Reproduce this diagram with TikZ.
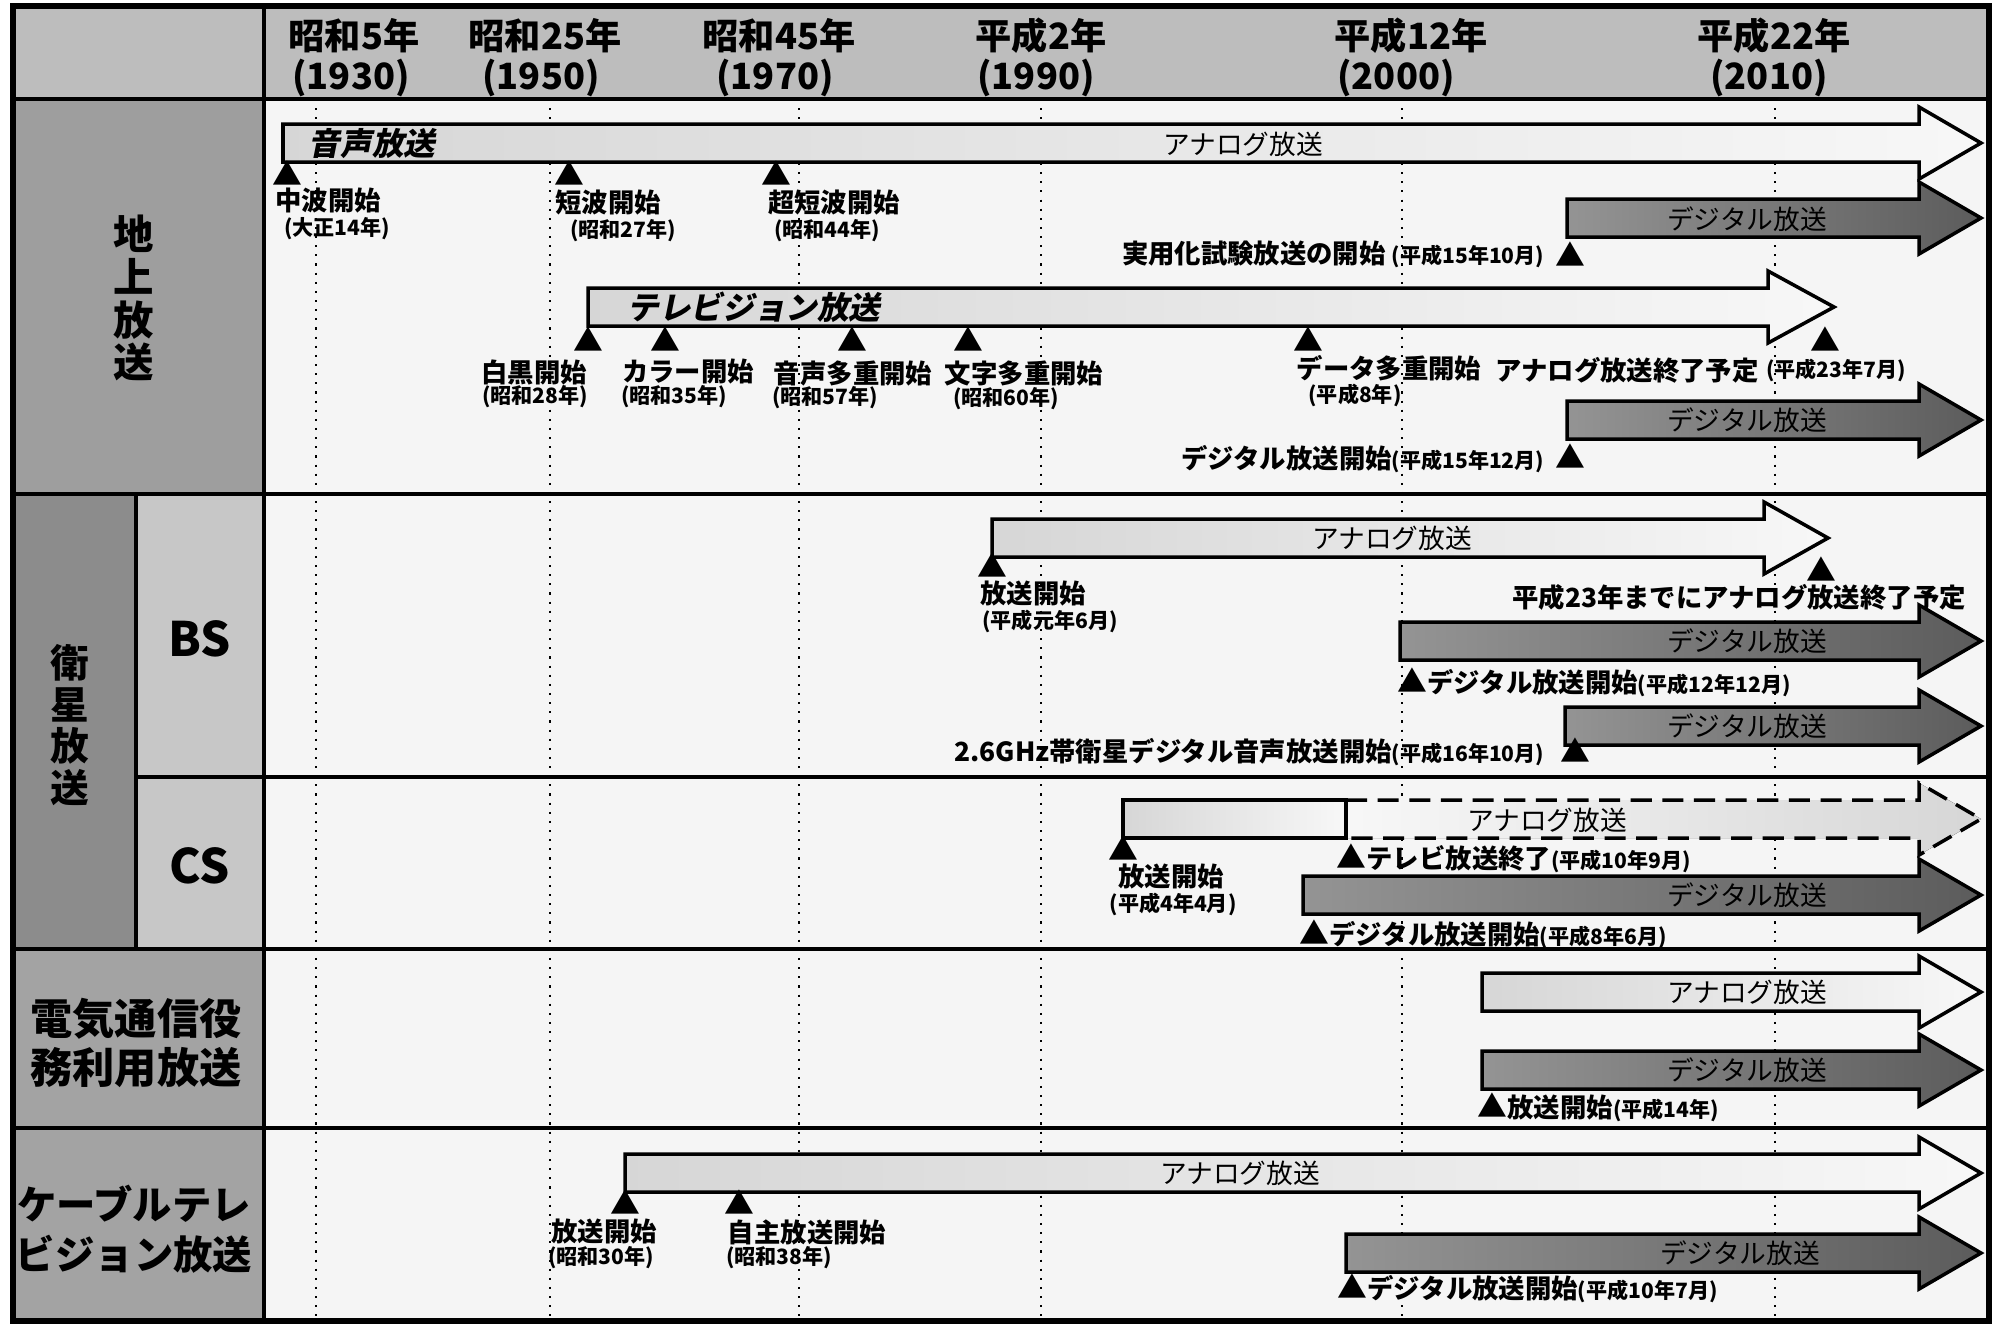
\documentclass[tikz,border=0pt]{standalone}
\usepackage{fontspec}
\setmainfont{Noto Sans CJK JP}
\newfontfamily\slantfont{Noto Sans CJK JP}[FakeSlant=0.2]
\usetikzlibrary{positioning}

\definecolor{hdrgray}{gray}{0.74}
\definecolor{sidegray}{gray}{0.62}
\definecolor{satgray}{gray}{0.55}
\definecolor{subgray}{gray}{0.78}
\definecolor{bodygray}{gray}{0.96}
\definecolor{lightA}{gray}{0.84}
\definecolor{lightB}{gray}{0.97}
\definecolor{darkA}{gray}{0.58}
\definecolor{darkB}{gray}{0.36}

\tikzset{
  hdr/.style={font=\fontsize{10.3}{11}\selectfont\bfseries, inner sep=0pt},
  side/.style={font=\fontsize{11.5}{12.2}\selectfont\bfseries, align=center, inner sep=0pt},
  lightarrow/.style={draw=black, line width=1pt, left color=lightA, right color=lightB},
  darkarrow/.style={draw=black, line width=1pt, left color=darkA, right color=darkB},
  tag/.style={font=\fontsize{7.6}{8}\selectfont, inner sep=0pt},
  bigtag/.style={font=\fontsize{9}{10}\selectfont\slantfont\bfseries, inner sep=0pt},
  tri/.style={font=\fontsize{8.5}{9}\selectfont, inner sep=0pt},
  evt/.style={font=\fontsize{7.5}{8}\selectfont\bfseries, inner sep=0pt},
  yr/.style={font=\fontsize{6}{7}\selectfont\bfseries, inner sep=0pt},
}

% block arrow: style, start x, end of body, tip, middle y
\newcommand{\blockarrow}[5]{%
  \draw[#1] (#2,#5-19) -- (#3,#5-19) -- (#3,#5-36) -- (#4,#5) -- (#3,#5+36) -- (#3,#5+19) -- (#2,#5+19) -- cycle;}
\newcommand{\sm}[1]{{\fontsize{6}{7}\selectfont #1}}
\newcommand{\mk}{{\fontsize{8.5}{9}\selectfont ▲}}

\begin{document}
\begin{tikzpicture}[x=0.1mm, y=-0.1mm]
  \useasboundingbox (0,0) rectangle (1997,1323);

  % backgrounds
  \fill[bodygray] (264,99) rectangle (1989,1321);
  \fill[hdrgray] (13,6) rectangle (1989,99);
  \fill[sidegray] (13,99) rectangle (264,494);
  \fill[satgray] (13,494) rectangle (136,949);
  \fill[subgray] (136,494) rectangle (264,949);
  \fill[gray!72] (13,949) rectangle (264,1321);

  % year lines
  \foreach \x in {316,550,799,1041,1402,1775}
    \draw[dotted, line width=0.6pt] (\x,99) -- (\x,1321);

  % grid
  \draw[line width=0.9pt] (13,99) -- (1989,99);
  \draw[line width=0.9pt] (13,494) -- (1989,494);
  \draw[line width=0.9pt] (136,777) -- (1989,777);
  \draw[line width=0.9pt] (13,949) -- (1989,949);
  \draw[line width=0.9pt] (13,1128) -- (1989,1128);
  \draw[line width=0.9pt] (264,6) -- (264,1321);
  \draw[line width=0.9pt] (136,494) -- (136,949);
  \draw[line width=1.5pt] (13,6) rectangle (1989,1321);

  % header
  \foreach \x/\era/\y/\yr [count=\i] in {354/昭和5年/351/1930, 545/昭和25年/541/1950,
      779/昭和45年/775/1970, 1041/平成2年/1036/1990, 1411/平成12年/1396/2000, 1774/平成22年/1769/2010} {
    \node[hdr] (era\i) at (\x,36) {\era};
    \node[hdr] (year\i) at (\y,78) {(\yr)};
  }

  % side labels
  \node[side] (chijo) at (134,298) {地\\上\\放\\送};
  \node[side, font=\fontsize{11}{11.9}\selectfont\bfseries] (eisei) at (70,725) {衛\\星\\放\\送};
  \node[font=\fontsize{13.5}{14}\selectfont\bfseries] (bs) at (200,639) {BS};
  \node[font=\fontsize{13.5}{14}\selectfont\bfseries] (cs) at (200,866) {CS};
  \node[side, font=\fontsize{12}{13.7}\selectfont\bfseries] (denki) at (136,1043) {電気通信役\\務利用放送};
  \node[side, font=\fontsize{11.2}{14.2}\selectfont\bfseries] (cable) at (134,1229) {ケーブルテレ\\ビジョン放送};

  % terrestrial
  \blockarrow{lightarrow}{283}{1919}{1981}{143}
  \node[bigtag] (onsei) at (372,144) {音声放送};
  \node[tag] (ana1) at (1243,144) {アナログ放送};
  \blockarrow{darkarrow}{1567}{1919}{1981}{218}
  \node[tag] (dig1) at (1747,219) {デジタル放送};
  \blockarrow{lightarrow}{588}{1768}{1834}{307}
  \node[bigtag] (tv) at (754,307) {テレビジョン放送};
  \blockarrow{darkarrow}{1567}{1919}{1981}{420}
  \node[tag] (dig2) at (1747,420) {デジタル放送};

  \foreach \x [count=\i] in {287,569,776}
    \node[tri] (ta\i) at (\x,173) {▲};
  \node[evt] (chuha) at (328,201) {中波開始};
  \node[yr] (chuhaY) at (337,229) {(大正14年)};
  \node[evt] (tanpa) at (608,203) {短波開始};
  \node[yr] (tanpaY) at (623,231) {(昭和27年)};
  \node[evt] (chotan) at (834,203) {超短波開始};
  \node[yr] (chotanY) at (827,231) {(昭和44年)};

  \node[tri] (tb1) at (1570,254) {▲};
  \node[evt, anchor=east] (shiken) at (1545,254) {実用化試験放送の開始 \sm{(平成15年10月)}};

  \foreach \x [count=\i] in {588,665,852,968,1308,1825}
    \node[tri] (tc\i) at (\x,339) {▲};
  \node[evt] (shiro) at (534,372) {白黒開始};
  \node[yr] (shiroY) at (535,397) {(昭和28年)};
  \node[evt] (color) at (688,372) {カラー開始};
  \node[yr] (colorY) at (674,397) {(昭和35年)};
  \node[evt] (onta) at (853,373) {音声多重開始};
  \node[yr] (ontaY) at (825,398) {(昭和57年)};
  \node[evt] (moji) at (1024,373) {文字多重開始};
  \node[yr] (mojiY) at (1006,399) {(昭和60年)};
  \node[evt] (data) at (1389,368) {データ多重開始};
  \node[yr] (dataY) at (1355,395) {(平成8年)};
  \node[evt] (shuryo) at (1627,370) {アナログ放送終了予定};
  \node[yr] (shuryoY) at (1836,370) {(平成23年7月)};

  \node[tri] (td1) at (1570,456) {▲};
  \node[evt, anchor=east] (digstart) at (1545,459) {デジタル放送開始\sm{(平成15年12月)}};

  % BS
  \blockarrow{lightarrow}{992}{1764}{1828}{538}
  \node[tag] (ana2) at (1392,538) {アナログ放送};
  \node[tri] (te1) at (992,565) {▲};
  \node[evt] (bsstart) at (1033,594) {放送開始};
  \node[yr] (bsstartY) at (1050,621) {(平成元年6月)};
  \node[tri] (te2) at (1821,569) {▲};
  \node[evt] (bsend) at (1739,597) {平成23年までにアナログ放送終了予定};
  \blockarrow{darkarrow}{1400}{1919}{1981}{641}
  \node[tag] (dig3) at (1747,641) {デジタル放送};
  \node[evt, anchor=west] (bsdig) at (1397,682) {\mk デジタル放送開始\sm{(平成12年12月)}};
  \blockarrow{darkarrow}{1565}{1919}{1981}{726}
  \node[tag] (dig4) at (1747,726) {デジタル放送};
  \node[tri] (tf1) at (1575,750) {▲};
  \node[evt, anchor=east] (ghz) at (1545,752) {2.6GHz帯衛星デジタル音声放送開始\sm{(平成16年10月)}};

  % CS
  \fill[left color=lightB, right color=lightA] (1346,800) -- (1919,800) -- (1919,783) -- (1981,819) -- (1919,855) -- (1919,838) -- (1346,838) -- cycle;
  \draw[dashed, line width=1pt, dash pattern=on 6pt off 3pt] (1346,800) -- (1919,800) -- (1919,783) -- (1981,819) -- (1919,855) -- (1919,838) -- (1346,838);
  \draw[line width=1pt, left color=lightA, right color=lightB] (1123,800) rectangle (1346,838);
  \node[tag] (ana3) at (1547,820) {アナログ放送};
  \node[tri] (tg1) at (1123,848) {▲};
  \node[evt] (csstart) at (1171,877) {放送開始};
  \node[yr] (csstartY) at (1173,904) {(平成4年4月)};
  \node[evt, anchor=west] (csend) at (1336,858) {\mk テレビ放送終了\sm{(平成10年9月)}};
  \blockarrow{darkarrow}{1303}{1919}{1981}{895}
  \node[tag] (dig5) at (1747,895) {デジタル放送};
  \node[evt, anchor=west] (csdig) at (1299,934) {\mk デジタル放送開始\sm{(平成8年6月)}};

  % telecom service
  \blockarrow{lightarrow}{1482}{1919}{1981}{992}
  \node[tag] (ana4) at (1747,992) {アナログ放送};
  \blockarrow{darkarrow}{1482}{1919}{1981}{1070}
  \node[tag] (dig6) at (1747,1070) {デジタル放送};
  \node[evt, anchor=west] (telstart) at (1477,1107) {\mk 放送開始\sm{(平成14年)}};

  % cable
  \blockarrow{lightarrow}{625}{1919}{1981}{1173}
  \node[tag] (ana5) at (1240,1173) {アナログ放送};
  \node[tri] (th1) at (625,1202) {▲};
  \node[tri] (th2) at (739,1202) {▲};
  \node[evt] (cabstart) at (604,1232) {放送開始};
  \node[yr] (cabstartY) at (601,1258) {(昭和30年)};
  \node[evt] (jishu) at (807,1232) {自主放送開始};
  \node[yr] (jishuY) at (779,1258) {(昭和38年)};
  \blockarrow{darkarrow}{1346}{1919}{1981}{1253}
  \node[tag] (dig7) at (1740,1253) {デジタル放送};
  \node[evt, anchor=west] (cabdig) at (1337,1288) {\mk デジタル放送開始\sm{(平成10年7月)}};
\end{tikzpicture}
\end{document}
